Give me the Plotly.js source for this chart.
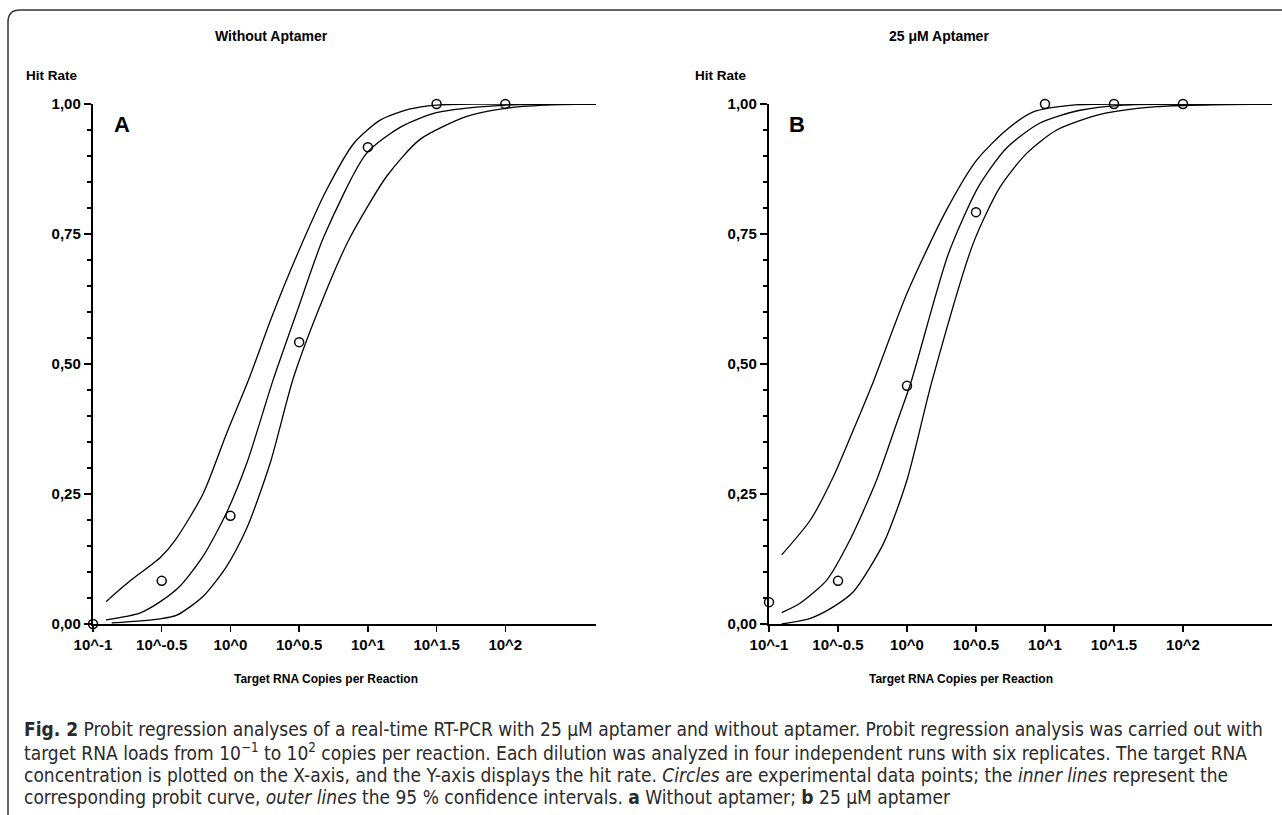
<!DOCTYPE html>
<html>
<head>
<meta charset="utf-8">
<script src="https://cdn.plot.ly/plotly-3.0.1.min.js"></script>
<style>
html,body{margin:0;padding:0;background:#fff;}
#chart{width:1282px;height:815px;}
</style>
</head>
<body>
<div id="chart"></div>
<script>
// ---------- DATA (x given as log10 of copies per reaction) ----------
const tickExponents = [-1, -0.5, 0, 0.5, 1, 1.5, 2];
const tickLabels = ["10^-1", "10^-0.5", "10^0", "10^0.5", "10^1", "10^1.5", "10^2"];
const yTickVals = [0, 0.25, 0.5, 0.75, 1];
const yTickLabels = ["0,00", "0,25", "0,50", "0,75", "1,00"];

// Panel A: without aptamer
const A_pointsExp = [-1, -0.5, 0, 0.5, 1, 1.5, 2];
const A_pointsHit = [0.000, 0.083, 0.208, 0.542, 0.917, 1.000, 1.000];
const A_upperExp = [-0.905, -0.73, -0.51, -0.40, -0.20, -0.03, 0.14, 0.30, 0.49, 0.70, 0.90, 1.09, 1.30, 1.50, 1.80, 2.66];
const A_upperHit = [0.043, 0.083, 0.128, 0.162, 0.250, 0.365, 0.475, 0.590, 0.713, 0.835, 0.925, 0.969, 0.990, 0.998, 1.000, 1.000];
const A_probitExp = [-0.905, -0.66, -0.51, -0.37, -0.20, -0.03, 0.12, 0.31, 0.49, 0.68, 0.99, 1.24, 1.48, 1.72, 2.10, 2.66];
const A_probitHit = [0.008, 0.021, 0.043, 0.072, 0.130, 0.213, 0.310, 0.469, 0.605, 0.745, 0.905, 0.956, 0.982, 0.992, 0.999, 1.000];
const A_lowerExp = [-0.864, -0.51, -0.39, -0.20, -0.03, 0.12, 0.29, 0.46, 0.68, 0.86, 1.14, 1.38, 1.72, 2.01, 2.28, 2.66];
const A_lowerHit = [0.002, 0.010, 0.017, 0.053, 0.110, 0.185, 0.310, 0.475, 0.630, 0.738, 0.862, 0.932, 0.976, 0.992, 0.998, 1.000];

// Panel B: 25 µM aptamer
const B_pointsExp = [-1, -0.5, 0, 0.5, 1, 1.5, 2];
const B_pointsHit = [0.042, 0.083, 0.458, 0.792, 1.000, 1.000, 1.000];
const B_upperExp = [-0.908, -0.70, -0.534, -0.389, -0.244, 0.00, 0.28, 0.505, 0.72, 0.915, 1.20, 1.60, 2.645];
const B_upperHit = [0.133, 0.200, 0.283, 0.373, 0.466, 0.636, 0.793, 0.892, 0.950, 0.985, 0.998, 1.000, 1.000];
const B_probitExp = [-0.908, -0.775, -0.58, -0.413, -0.22, -0.075, 0.03, 0.30, 0.52, 0.72, 0.96, 1.254, 1.57, 2.0, 2.645];
const B_probitHit = [0.022, 0.040, 0.085, 0.162, 0.277, 0.386, 0.466, 0.712, 0.842, 0.915, 0.963, 0.988, 0.998, 1.000, 1.000];
const B_lowerExp = [-0.908, -0.70, -0.534, -0.389, -0.17, 0.00, 0.18, 0.48, 0.674, 0.867, 1.085, 1.40, 1.81, 2.645];
const B_lowerHit = [0.000, 0.011, 0.033, 0.062, 0.155, 0.277, 0.466, 0.732, 0.840, 0.905, 0.950, 0.980, 0.995, 1.000];

// ---------- BUILD ----------
const toCopies = arr => arr.map(e => Math.pow(10, e));
function curve(ex, hy, xa, ya) {
  return {x: toCopies(ex), y: hy, xaxis: xa, yaxis: ya, type: 'scatter', mode: 'lines',
    line: {color: '#000', width: 1.3, shape: 'spline', smoothing: 0.7}, hoverinfo: 'skip', showlegend: false, cliponaxis: false};
}
function pts(ex, hy, xa, ya) {
  return {x: toCopies(ex), y: hy, xaxis: xa, yaxis: ya, type: 'scatter', mode: 'markers',
    marker: {symbol: 'circle-open', size: 9, color: '#000', line: {width: 1.5, color: '#000'}},
    showlegend: false, cliponaxis: false};
}
const traces = [
  curve(A_upperExp, A_upperHit, 'x', 'y'),
  curve(A_probitExp, A_probitHit, 'x', 'y'),
  curve(A_lowerExp, A_lowerHit, 'x', 'y'),
  pts(A_pointsExp, A_pointsHit, 'x', 'y'),
  curve(B_upperExp, B_upperHit, 'x2', 'y2'),
  curve(B_probitExp, B_probitHit, 'x2', 'y2'),
  curve(B_lowerExp, B_lowerHit, 'x2', 'y2'),
  pts(B_pointsExp, B_pointsHit, 'x2', 'y2')
];

const W = 1282, H = 815;
const px = v => v / W, py = v => 1 - v / H;
const axFont = {family: 'Liberation Sans, Arial, sans-serif', size: 15, color: '#000', weight: 'bold'};

function xAxis(d0, d1, hi, anchor) {
  return {type: 'log', domain: [px(d0), px(d1)], range: [-1, hi], anchor: anchor,
    tickvals: toCopies(tickExponents), ticktext: tickLabels, ticks: 'outside', ticklen: 6, tickwidth: 1.5, tickcolor: '#000',
    showline: true, linewidth: 2.2, linecolor: '#000', showgrid: false, zeroline: false, tickfont: axFont, fixedrange: true};
}
function yAxis(d0, anchor) {
  return {domain: [py(624), py(104)], range: [0, 1], anchor: anchor,
    tickvals: yTickVals, ticktext: yTickLabels, ticks: 'outside', ticklen: 7, tickwidth: 1.5, tickcolor: '#000',
    minor: {dtick: 0.05, ticks: 'outside', ticklen: 4, tickwidth: 1.5, tickcolor: '#000', showgrid: false},
    showline: true, linewidth: 2.2, linecolor: '#000', showgrid: false, zeroline: false, tickfont: axFont, fixedrange: true};
}

const sans = 'Liberation Sans, Arial, sans-serif';
const titleFont = {family: sans, size: 14, color: '#000'};
const hitFont = {family: sans, size: 13.5, color: '#000'};
const axTitleFont = {family: sans, size: 12, color: '#000'};
const capFont = {family: 'DejaVu Sans Condensed, Liberation Sans Narrow, Arial Narrow, sans-serif', size: 19, color: '#2a2a2a'};
function ann(text, x, y, font, xanchor) {
  return {text: text, xref: 'paper', yref: 'paper', x: px(x), y: py(y), xanchor: xanchor || 'center', yanchor: 'middle', showarrow: false, font: font};
}
const capLines = [
  "<b>Fig. 2</b> Probit regression analyses of a real-time RT-PCR with 25 μM aptamer and without aptamer. Probit regression analysis was carried out with",
  "target RNA loads from 10<sup>−1</sup> to 10<sup>2</sup> copies per reaction. Each dilution was analyzed in four independent runs with six replicates. The target RNA",
  "concentration is plotted on the X-axis, and the Y-axis displays the hit rate. <i>Circles</i> are experimental data points; the <i>inner lines</i> represent the",
  "corresponding probit curve, <i>outer lines</i> the 95 % confidence intervals. <b>a</b> Without aptamer; <b>b</b> 25 μM aptamer"
];
const capY = [729, 752, 775, 797];

const annotations = [
  ann('<b>Without Aptamer</b>', 271, 36, titleFont),
  ann('<b>25 μM Aptamer</b>', 939, 36, titleFont),
  ann('<b>Hit Rate</b>', 24, 75, hitFont, 'left'),
  ann('<b>Hit Rate</b>', 693, 75, hitFont, 'left'),
  ann('<b>A</b>', 122, 124, {family: sans, size: 22, color: '#000'}),
  ann('<b>B</b>', 797, 124, {family: sans, size: 22, color: '#000'}),
  ann('<b>Target RNA Copies per Reaction</b>', 326, 679, axTitleFont),
  ann('<b>Target RNA Copies per Reaction</b>', 961, 679, axTitleFont)
].concat(capLines.map((t, i) => ann(t, 22, capY[i], capFont, 'left')));

const shapes = [{
  type: 'path', xref: 'paper', yref: 'paper',
  path: `M ${px(1300)} ${py(10)} L ${px(20)} ${py(10)} Q ${px(8)} ${py(10)} ${px(8)} ${py(22)} L ${px(8)} ${py(830)}`,
  line: {color: '#333', width: 1.5}
}];

const layout = {
  width: W, height: H, margin: {l: 0, r: 0, t: 0, b: 0},
  paper_bgcolor: '#fff', plot_bgcolor: 'rgba(0,0,0,0)', showlegend: false,
  xaxis: xAxis(93, 596, 2.66, 'y'),
  yaxis: yAxis(93, 'x'),
  xaxis2: xAxis(769, 1272, 2.645, 'y2'),
  yaxis2: yAxis(769, 'x2'),
  annotations: annotations, shapes: shapes
};
Plotly.newPlot('chart', traces, layout, {displayModeBar: false, staticPlot: true});
</script>
</body>
</html>
